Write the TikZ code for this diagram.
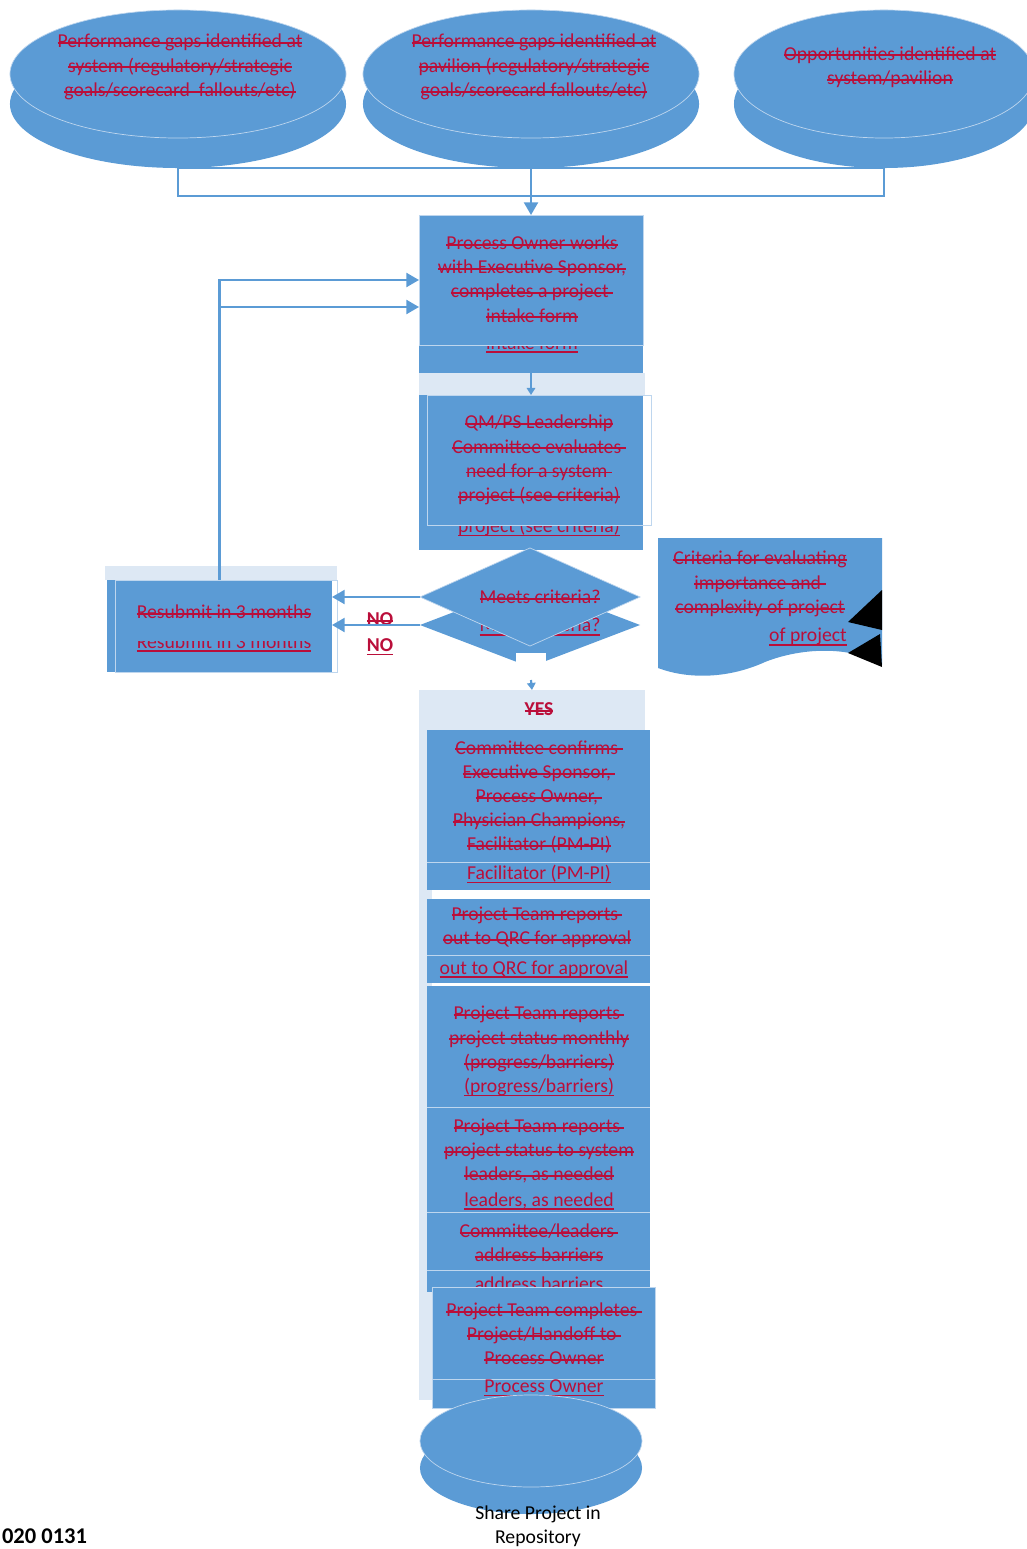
\documentclass[tikz,border=0pt]{standalone}
\usepackage{fontspec}
\setmainfont{Carlito}
\usetikzlibrary{arrows.meta, positioning, shapes.geometric, fit}
\definecolor{boxblue}{RGB}{91,155,213}
\definecolor{paleblue}{RGB}{221,232,244}
\definecolor{rimblue}{RGB}{190,214,238}
\definecolor{revred}{RGB}{186,14,58}
\newcommand{\revfont}{\fontsize{14}{17.2}\selectfont}
\newsavebox{\revbox}
\newcommand{\strk}[1]{\sbox\revbox{#1}\rlap{\usebox\revbox}\rule[0.4ex]{\wd\revbox}{1.4pt}}
\newcommand{\undl}[1]{\sbox\revbox{#1}\rlap{\usebox\revbox}\rule[-2.6pt]{\wd\revbox}{0.9pt}}

\begin{document}
\begin{tikzpicture}[x=0.025cm, y=-0.025cm,
  every node/.style={inner sep=0pt, outer sep=0pt},
  disc/.style={ellipse, fill=boxblue, minimum height=3.2cm},
  stepbox/.style={rectangle, fill=boxblue},
  rim/.style={draw=rimblue, line width=0.5pt},
  revtext/.style={font=\revfont, text=revred, align=center},
  link/.style={draw=boxblue, line width=1.5pt},
  flow/.style={link, -{Triangle[length=9pt, width=10pt]}},
  flowsm/.style={link, -{Triangle[length=5pt, width=6pt]}}
]
\useasboundingbox (0,0) rectangle (1026,1549);

% Source discs
\node[disc, minimum width=8.4cm] (gapsysB) at (178,104) {};
\node[disc, rim, minimum width=8.4cm] (gapsys) at (178,74) {};
\node[disc, minimum width=8.4cm] (gappavB) at (531,104) {};
\node[disc, rim, minimum width=8.4cm] (gappav) at (531,74) {};
\node[disc, minimum width=7.5cm] (gapoppB) at (884,104) {};
\node[disc, rim, minimum width=7.5cm] (gapopp) at (884,74) {};
\node[revtext] (gapsysTxt) at (180,67) {\strk{Performance gaps identified at}\\\strk{system (regulatory/strategic}\\\strk{goals/scorecard\ \ fallouts/etc)}};
\node[revtext] (gappavTxt) at (534,67) {\strk{Performance gaps identified at}\\\strk{pavilion (regulatory/strategic}\\\strk{goals/scorecard fallouts/etc)}};
\node[revtext] (gapoppTxt) at (890,67) {\strk{Opportunities identified at}\\\strk{system/pavilion}};

% Intake
\fill[paleblue] (419,373) rectangle (645,395);
\node[stepbox, fit={(419,215)(643,373)}] (intake) {};
\node[revtext] (intakeDup) at (532,344) {\undl{intake form}};
\node[stepbox, rim, fit={(419,215)(643,345)}] (intakeTop) {};
\node[revtext] (intakeTxt) at (532,279) {\strk{Process Owner works}\\\strk{with Executive Sponsor,}\\\strk{completes a project\ }\\\strk{intake form}};

% Committee evaluation
\node[stepbox, fit={(419,395)(643,550)}] (qmps) {};
\node[revtext] (qmpsDup) at (539,527) {\undl{project (see criteria)}};
\node[stepbox, fit={(419,395)(643,525)}] (qmpsTop) {};
\draw[rim] (427,395) rectangle (651,525);
\node[revtext] (qmpsTxt) at (539,460) {\strk{QM/PS Leadership}\\\strk{Committee evaluates\ }\\\strk{need for a system\ }\\\strk{project (see criteria)}};

% Decision
\node[diamond, fill=boxblue, minimum width=5.5cm, minimum height=2.1cm] (meetsB) at (530,625) {};
\node[revtext] (meetsDup) at (540,627) {\undl{Meets criteria?}};
\node[diamond, fill=boxblue, rim, minimum width=5.5cm, minimum height=2.45cm] (meets) at (530,597) {};
\node[revtext] (meetsTxt) at (540,597) {\strk{Meets criteria?}};
\node[fill=white, fit={(516,653)(546,680)}] (meetsGap) {};

% Resubmit
\fill[paleblue] (105,566) rectangle (337,580);
\node[stepbox, fit={(107,580)(332,672)}] (resub) {};
\node[revtext] (resubDup) at (224,643) {\undl{Resubmit in 3 months}};
\node[stepbox, fit={(107,580)(332,641)}] (resubTop) {};
\draw[rim] (115,580) rectangle (337,672);
\node[revtext] (resubTxt) at (224,612) {\strk{Resubmit in 3 months}};
\node[revtext, font=\revfont\bfseries] (noA) at (380,619) {\strk{NO}};
\node[revtext, font=\revfont\bfseries] (noB) at (380,647) {\undl{NO}};

% Criteria document
\fill[boxblue] (658,538) -- (882,538) -- (882,665)
  .. controls (850,645) and (800,648) .. (765,662)
  .. controls (730,678) and (690,680) .. (658,668) -- cycle;
\fill[black] (848,622) -- (882,590) -- (882,630) -- cycle;
\fill[black] (848,653) -- (880,634) -- (882,667) -- cycle;
\node[revtext] (critTxt) at (760,584) {\strk{Criteria for evaluating}\\\strk{importance and\ }\\\strk{complexity of project}};
\node[revtext] (critDup) at (808,637) {\undl{of project}};

% Project steps
\node[fill=paleblue, fit={(419,690)(645,730)}] (yes) {};
\node[revtext, font=\revfont\bfseries] (yesTxt) at (539,709) {\strk{YES}};
\fill[paleblue] (419,730) rectangle (432,1400);

\node[stepbox, fit={(427,730)(650,890)}] (confirm) {};
\draw[rim] (427,862) -- (650,862);
\node[revtext] (confirmTxt) at (539,797) {\strk{Committee confirms\ }\\\strk{Executive Sponsor,\ }\\\strk{Process Owner,\ }\\\strk{Physician Champions,}\\\strk{Facilitator (PM-PI)}};
\node[revtext] (confirmDup) at (539,874) {\undl{Facilitator (PM-PI)}};

\node[stepbox, fit={(427,899)(650,983)}] (qrc) {};
\draw[rim] (427,955) -- (650,955);
\node[revtext] (qrcTxt) at (537,927) {\strk{Project Team reports\ }\\\strk{out to QRC for approval}};
\node[revtext] (qrcDup) at (534,969) {\undl{out to QRC for approval}};

\node[stepbox, fit={(427,986)(650,1107)}] (monthly) {};
\draw[rim] (427,1107) -- (650,1107);
\node[revtext] (monthlyTxt) at (539,1039) {\strk{Project Team reports\ }\\\strk{project status monthly}\\\strk{(progress/barriers)}};
\node[revtext] (monthlyDup) at (539,1087) {\undl{(progress/barriers)}};

\node[stepbox, fit={(427,1108)(650,1212)}] (leaders) {};
\draw[rim] (427,1212) -- (650,1212);
\node[revtext] (leadersTxt) at (539,1151) {\strk{Project Team reports\ }\\\strk{project status to system}\\\strk{leaders, as needed}};
\node[revtext] (leadersDup) at (539,1201) {\undl{leaders, as needed}};

\node[stepbox, fit={(427,1213)(650,1292)}] (barriers) {};
\draw[rim] (427,1270) -- (650,1270);
\node[revtext] (barriersTxt) at (539,1243) {\strk{Committee/leaders\ }\\\strk{address barriers}};
\node[revtext] (barriersDup) at (539,1285) {\undl{address barriers}};

\node[stepbox, rim, fit={(432,1287)(655,1408)}] (handoff) {};
\draw[rim] (432,1379) -- (655,1379);
\node[revtext] (handoffTxt) at (544,1334) {\strk{Project Team completes\ }\\\strk{Project/Handoff to\ }\\\strk{Process Owner}};
\node[revtext] (handoffDup) at (544,1388) {\undl{Process Owner}};

% Repository
\node[disc, minimum width=5.55cm, minimum height=2.3cm] (shareB) at (531,1468) {};
\node[disc, rim, minimum width=5.55cm, minimum height=2.3cm] (share) at (531,1441) {};
\node[font=\revfont, align=center] (shareTxt) at (538,1526) {Share Project in\\Repository};
\node[font=\fontsize{16}{19}\selectfont\bfseries, anchor=east] (docId) at (87,1536) {020 0131};

% Connectors
\draw[link] (gapsysB.south) -- (gapoppB.south);
\draw[link] (gapsysB.south) -- ++(0,28) -| (gapoppB.south);
\draw[flow] (gappavB.south) -- (intake.north);
\draw[flowsm] (intake.south) -- (qmps.north);
\draw[flow] (meets.west) -- (meets.west -| resub.east);
\draw[flow] (meetsB.west) -- (meetsB.west -| resub.east);
\coordinate (loopA) at (419,280);
\coordinate (loopB) at (419,307);
\draw[flow] (resub.north) |- (loopA);
\draw[flow] (resub.north |- loopB) -- (loopB);
\draw[flowsm] (meetsGap.south) -- (yes.north);
\end{tikzpicture}
\end{document}
